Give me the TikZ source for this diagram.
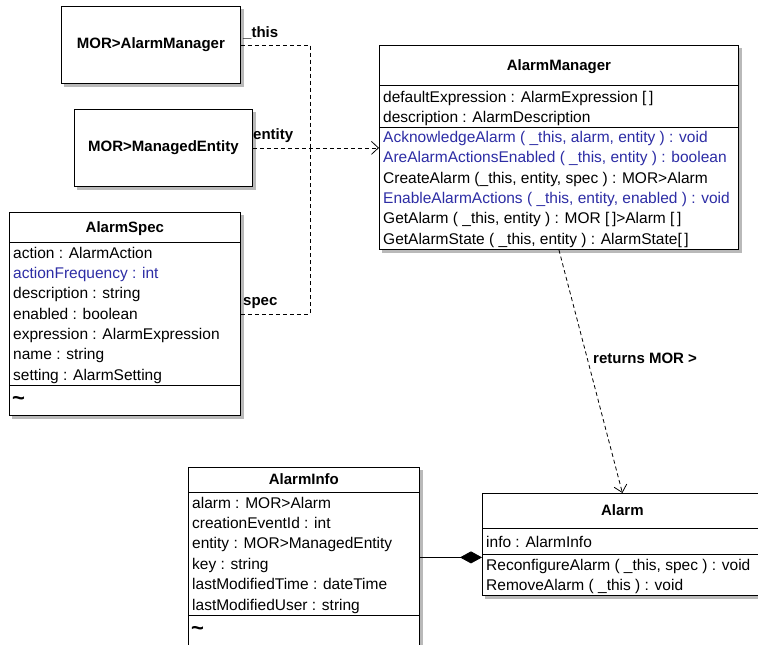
\documentclass[tikz,border=0pt]{standalone}
\usepackage{fontspec}
\setmainfont{Liberation Sans}
\usetikzlibrary{arrows.meta,backgrounds}

\definecolor{umlblue}{RGB}{45,45,165}
\definecolor{umlshadow}{RGB}{185,185,185}

\tikzset{
  plainbox/.style={draw, fill=white, line width=0.8pt, anchor=north west,
    font=\bfseries\fontsize{15}{18}\selectfont},
  classbox/.style={draw, fill=white, line width=0.8pt, anchor=north west, inner sep=0pt},
  ctitle/.style={inner sep=0pt, text height=12pt, text depth=2pt,
    font=\bfseries\fontsize{15}{18}\selectfont},
  crow/.style={anchor=west, inner sep=0pt, text height=12pt, text depth=2pt,
    font=\fontsize{15.5}{18}\selectfont},
  tilde/.style={anchor=west, inner sep=0pt, font=\bfseries\fontsize{22}{22}\selectfont},
  lbl/.style={anchor=west, inner sep=0pt, text height=12pt, text depth=2pt,
    font=\bfseries\fontsize{15}{18}\selectfont},
  dep/.style={line width=0.8pt, dash pattern=on 4pt off 3pt},
  sep/.style={line width=0.8pt}
}

\begin{document}
\begin{tikzpicture}[x=1pt,y=-1pt,>={Straight Barb[length=7pt,width=13pt]}]
  \useasboundingbox (0,0) rectangle (758,645);
  \clip (0,0) rectangle (758,645);
  % Managed object references on the left.
  \node[plainbox, minimum width=179pt, minimum height=77pt] (mam) at (61,6) {MOR>AlarmManager};
  \node[plainbox, minimum width=178pt, minimum height=77pt] (mme) at (74,109) {MOR>ManagedEntity};
  % AlarmSpec class.
  \node[classbox, minimum width=231pt, minimum height=203pt] (spec) at (9,212) {};
  \draw[sep] (spec.west |- 0,242) -- (spec.east |- 0,242);
  \draw[sep] (spec.west |- 0,385) -- (spec.east |- 0,385);
  \node[ctitle] (spec-t) at (spec.center |- 0,227) {AlarmSpec};
  \foreach \t [count=\i] in {action : AlarmAction, {\color{umlblue}actionFrequency : int},
      description : string, enabled : boolean, expression : AlarmExpression,
      name : string, setting : AlarmSetting}
    \node[crow] (spec-r\i) at (13,232.7+20.33*\i) {\t};
  \node[tilde] (spec-o) at (12,401) {\textasciitilde};
  % AlarmManager class.
  \node[classbox, minimum width=359pt, minimum height=204pt] (am) at (379,45) {};
  \draw[sep] (am.west |- 0,85) -- (am.east |- 0,85);
  \draw[sep] (am.west |- 0,127) -- (am.east |- 0,127);
  \node[ctitle] (am-t) at (am.center |- 0,65) {AlarmManager};
  \foreach \t [count=\i] in {defaultExpression : AlarmExpression [\,],
      description : AlarmDescription,
      {\color{umlblue}AcknowledgeAlarm ( \_this, alarm, entity ) : void},
      {\color{umlblue}AreAlarmActionsEnabled ( \_this, entity ) : boolean},
      {CreateAlarm (\_this, entity, spec ) : MOR>Alarm},
      {\color{umlblue}EnableAlarmActions ( \_this, entity, enabled ) : void},
      {GetAlarm ( \_this, entity ) : MOR [\,]>Alarm [\,]},
      {GetAlarmState ( \_this, entity ) : AlarmState[\,]}}
    \node[crow] (am-r\i) at (383,76.7+20.3*\i) {\t};
  % AlarmInfo class.
  \node[classbox, minimum width=231pt, minimum height=180pt] (info) at (188,467) {};
  \draw[sep] (info.west |- 0,492) -- (info.east |- 0,492);
  \draw[sep] (info.west |- 0,615) -- (info.east |- 0,615);
  \node[ctitle] (info-t) at (info.center |- 0,479.5) {AlarmInfo};
  \foreach \t [count=\i] in {alarm : MOR>Alarm, creationEventId : int,
      entity : MOR>ManagedEntity, key : string, lastModifiedTime : dateTime,
      lastModifiedUser : string}
    \node[crow] (info-r\i) at (192,482.6+20.4*\i) {\t};
  \node[tilde] (info-o) at (191,631) {\textasciitilde};
  % Alarm class.
  \node[classbox, minimum width=280pt, minimum height=102pt] (alarm) at (482,493) {};
  \draw[sep] (alarm.west |- 0,528) -- (alarm.east |- 0,528);
  \draw[sep] (alarm.west |- 0,554) -- (alarm.east |- 0,554);
  \node[ctitle] (alarm-t) at (alarm.center |- 0,510.5) {Alarm};
  \node[crow] (alarm-r1) at (486,542) {info : AlarmInfo};
  \node[crow] (alarm-r2) at (486,565) {ReconfigureAlarm ( \_this, spec ) : void};
  \node[crow] (alarm-r3) at (486,585) {RemoveAlarm ( \_this ) : void};
  % Grey drop shadows behind every box.
  \begin{scope}[on background layer]
    \foreach \b in {mam,mme,spec,am,info,alarm}
      \fill[umlshadow] ([xshift=3pt,yshift=-3pt]\b.south west)
        rectangle ([xshift=3pt,yshift=-3pt]\b.north east);
  \end{scope}
  % Parameters of the AlarmManager methods.
  \coordinate (join) at (310,147.5);
  \draw[dep] (mam.east) -| (join);
  \draw[dep] (spec.east) -| (join);
  \draw[dep,->] (mme.east) -- (mme.east -| am.west);
  \node[lbl] (l-this) at (243,32) {\_this};
  \node[lbl] (l-entity) at (253,134) {entity};
  \node[lbl] (l-spec) at (243,300) {spec};
  % Returned alarm and composition.
  \draw[dep,->] (am.south) -- (alarm.north);
  \node[lbl] (l-ret) at (593,358) {returns MOR >};
  \draw[line width=0.8pt,-{Diamond[length=22pt,width=12pt]}] (info.east) -- (info.east -| alarm.west);
\end{tikzpicture}
\end{document}
